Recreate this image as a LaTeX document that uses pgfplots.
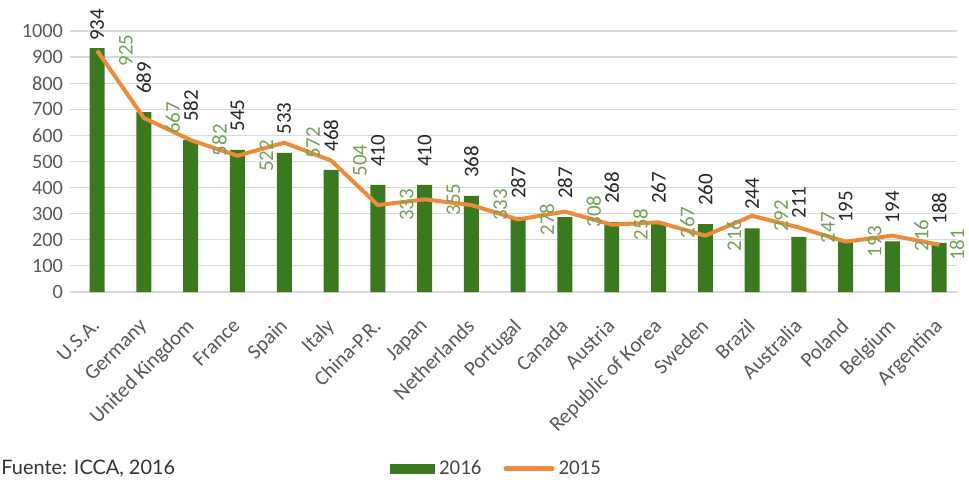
\documentclass[border=0pt]{standalone}
\usepackage{fontspec}
\setmainfont{Carlito}
\newfontfamily\srcfont{Lato}
\usepackage{pgfplots}
\usepackage{pgfplotstable}
\pgfplotsset{compat=1.18}

\definecolor{bargreen}{HTML}{3A7A1E}
\definecolor{lineorange}{HTML}{EE8B3A}
\definecolor{lblgreen}{HTML}{72A356}
\definecolor{tickgrey}{HTML}{595959}
\definecolor{gridgrey}{HTML}{D9D9D9}

\newcommand{\lblfont}{\fontsize{10.5}{12}\selectfont}

% 2016 bars, 2015 line
\pgfplotstableread{
idx y2016 y2015
0  934 925
1  689 667
2  582 582
3  545 522
4  533 572
5  468 504
6  410 333
7  410 355
8  368 333
9  287 278
10 287 308
11 268 258
12 267 267
13 260 216
14 244 292
15 211 247
16 195 193
17 194 216
18 188 181
}\data

\begin{document}
\begin{tikzpicture}
\path[use as bounding box] (0bp,0bp) rectangle (484.5bp,240bp);
\begin{axis}[
  at={(35bp,94bp)}, anchor=south west,
  width=443.5bp, height=130.5bp, scale only axis,
  xmin=-0.58, xmax=18.38, ymin=0, ymax=1000,
  clip=false,
  axis line style={draw=none},
  tick style={draw=none},
  ymajorgrids,
  grid style={gridgrey, line width=0.6bp},
  ytick={0,100,...,1000},
  xtick={0,...,18},
  xticklabels={U.S.A.,Germany,United Kingdom,France,Spain,Italy,China-P.R.,Japan,Netherlands,Portugal,Canada,Austria,Republic of Korea,Sweden,Brazil,Australia,Poland,Belgium,Argentina},
  xticklabel style={xshift=-3bp, yshift=-11bp, rotate=45, anchor=north east,
    font=\lblfont, text=tickgrey, inner sep=1bp},
  yticklabel style={font=\fontsize{10.2}{12}\selectfont, text=tickgrey},
  /pgf/number format/assume math mode=true,
  /pgf/number format/1000 sep={},
  legend style={at={(0.482,-0.678)}, anchor=center, legend columns=2,
    draw=none, fill=none, font=\lblfont, text=tickgrey!80!black,
    /tikz/every even column/.append style={column sep=9bp}},
]
\addplot[ybar, bar width=0.32, fill=bargreen, draw=none,
  nodes near coords,
  visualization depends on={rawy \as \rawy},
  every node near coord/.append style={font=\lblfont, text=black!85,
    anchor=west, inner sep=0pt, yshift={\rawy>900 ? 3.5 : 9}, rotate=90},
  legend image code/.code={\fill[bargreen] (0bp,-2.5bp) rectangle (22.5bp,2.5bp);},
] table[x=idx, y=y2016] {\data};
\addlegendentry{2016}
\addplot[color=lineorange, line width=2bp, line join=round, mark=none,
  nodes near coords,
  visualization depends on={rawx \as \rawx},
  every node near coord/.append style={font=\lblfont, text=lblgreen,
    anchor=center, inner sep=0pt, xshift={\rawx>17.5 ? 9 : 14.5}, rotate=90},
  legend image code/.code={\draw[lineorange, line width=2.5bp, line cap=round] (0bp,0bp) -- (23bp,0bp);},
] table[x=idx, y=y2015] {\data};
\addlegendentry{2015}
\end{axis}
\node[anchor=base west, inner sep=0pt, font=\srcfont\fontsize{10}{12}\selectfont, text=black!80]
  at (0.5bp,3bp) {Fuente: ICCA, 2016};
\end{tikzpicture}
\end{document}
